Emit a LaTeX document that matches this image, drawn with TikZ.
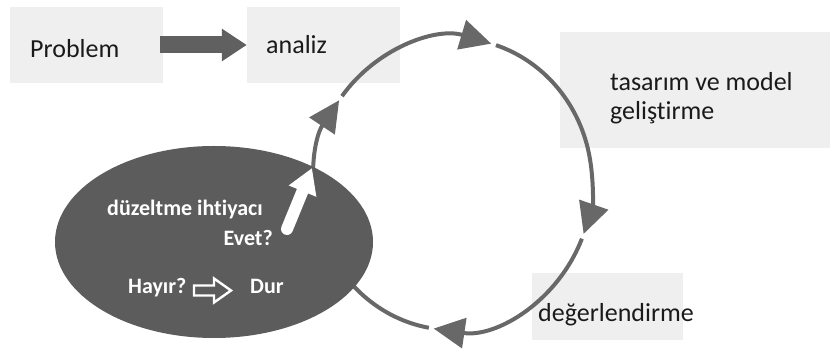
\documentclass[tikz,border=0pt]{standalone}
\usepackage{fontspec}
\setmainfont{Carlito}[Ligatures=NoCommon]
\usetikzlibrary{arrows.meta,shapes.geometric}
\definecolor{boxgray}{RGB}{239,239,239}
\definecolor{ellgray}{RGB}{92,92,92}
\definecolor{arrgray}{RGB}{96,96,96}
\definecolor{cycgray}{RGB}{104,104,104}
\definecolor{txt}{RGB}{26,26,26}
\begin{document}
\begin{tikzpicture}[x=1pt,y=1pt,
  box/.style={fill=boxgray, draw=none, inner sep=0pt},
  lbl/.style={inner sep=0pt, font=\fontsize{26}{29}\selectfont, text=txt},
  wlbl/.style={inner sep=0pt, font=\fontsize{22}{26}\selectfont\bfseries, text=white},
  cyc/.style={draw=cycgray, line width=4pt, -{Triangle[length=31pt,width=30pt]}},
]
\useasboundingbox (0,0) rectangle (830,350);
% boxes
\node[box, minimum width=153pt, minimum height=76pt] (problem) at (86.5,305) {};
\node[box, minimum width=153pt, minimum height=76pt] (analiz) at (323.5,305) {};
\node[box, minimum width=270pt, minimum height=116pt] (tasarim) at (695,260) {};
\node[box, minimum width=151pt, minimum height=67pt] (deger) at (607.5,43.5) {};
% labels
\node[lbl, anchor=base west] (tproblem) at (30,292) {Problem};
\node[lbl, anchor=base west] (tanaliz) at (266,296) {analiz};
\node[lbl, anchor=base west, align=left] (ttasarim) at (610,230) {tasarım ve model\\geliştirme};
\node[lbl, anchor=base west] (tdeger) at (538,28) {değerlendirme};
% big arrow
\draw[arrgray, line width=17pt, -{Triangle[length=25pt,width=31pt]}] ([xshift=-3pt]problem.east) -- (analiz.west);
% cycle
\coordinate (cc) at (453,166);
\draw[cyc] ([shift={(143:139 and 146)}]cc) arc[start angle=143, end angle=74, x radius=139, y radius=146];
\draw[cyc] ([shift={(72:139 and 146)}]cc) arc[start angle=72, end angle=-20, x radius=139, y radius=146];
\draw[cyc] ([shift={(-22:139 and 146)}]cc) arc[start angle=-22, end angle=-98, x radius=139, y radius=146];
\draw[cyc] ([shift={(-100:139 and 146)}]cc) arc[start angle=-100, end angle=-215, x radius=139, y radius=146];
% decision ellipse
\node[ellipse, fill=ellgray, draw=none, minimum width=318pt, minimum height=192pt, inner sep=0pt] (decision) at (214,108) {};
\node[wlbl, anchor=base west] (duz) at (107,134) {düzeltme ihtiyacı};
\node[wlbl, anchor=base east] (evet) at (273,104) {Evet?};
\node[wlbl, anchor=base west] (hayir) at (128,56) {Hayır?};
\node[wlbl, anchor=base west] (dur) at (250,56) {Dur};
% Evet arrow
\coordinate (evtail) at (287,121);
\coordinate (evtip) at (312,182);
\draw[white, line width=12pt, line cap=round, -{Triangle[length=25pt,width=28pt]}] (evtail) -- (evtip);
% Hayir -> Dur hollow arrow
\draw[white, line width=2.4pt, fill=ellgray, line join=miter]
  (194,54.5) -- (214,54.5) -- (214,47.5) -- (231,59.5) -- (214,71.5) -- (214,64.5) -- (194,64.5) -- cycle;
\end{tikzpicture}
\end{document}
